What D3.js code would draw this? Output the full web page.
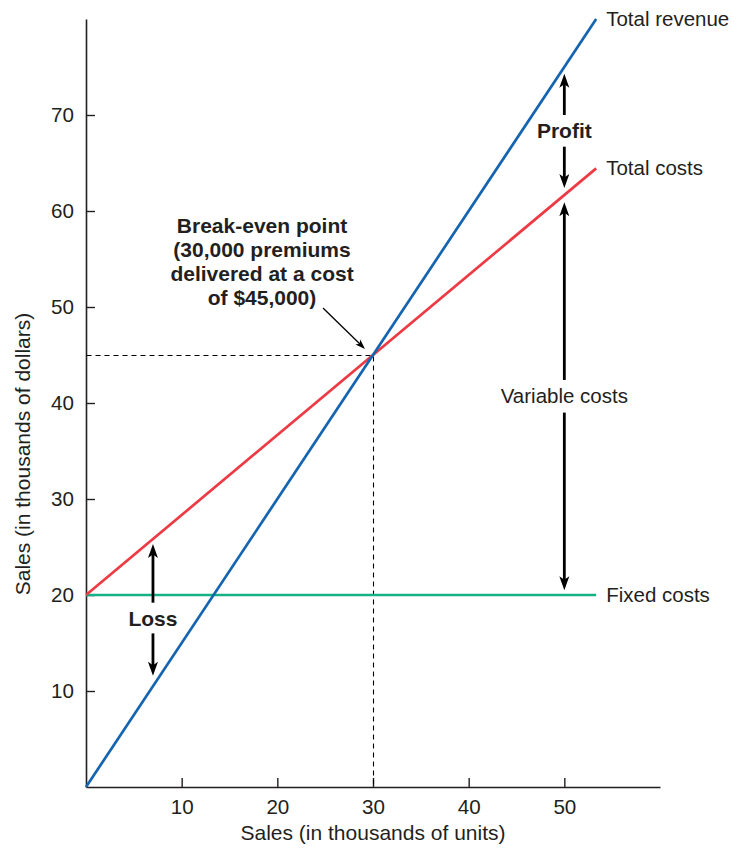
<!DOCTYPE html>
<html>
<head>
<meta charset="utf-8">
<script src="https://cdn.jsdelivr.net/npm/d3@7"></script>
<style>
  html, body { margin: 0; padding: 0; background: #fff; }
  svg { display: block; }
  text { font-family: "Liberation Sans", Arial, Helvetica, sans-serif; fill: #231f20; }
</style>
</head>
<body>
<svg id="chart" width="744" height="850"></svg>
<script>
// ---- Data (thousands of units -> thousands of dollars) ----
const xTicks = [10, 20, 30, 40, 50];
const yTicks = [10, 20, 30, 40, 50, 60, 70];
const seriesNames = ["Total revenue", "Total costs", "Fixed costs"];
const seriesColors = ["#1464b0", "#ec3b44", "#14b284"];
const revenuePoints = [[0, 0], [53.33, 80]];
const totalCostPoints = [[0, 20], [53.33, 64.44]];
const fixedCostPoints = [[0, 20], [53.33, 20]];
const breakEven = [30, 45];
const breakEvenText = ["Break-even point", "(30,000 premiums", "delivered at a cost", "of $45,000)"];
// arrows: [x, yFrom, yTo]
const lossArrows = [[7, 19.2, 25.3], [7, 16.0, 11.6]];
const profitArrows = [[50, 70.0, 74.3], [50, 66.7, 62.4]];
const variableArrows = [[50, 42.4, 60.9], [50, 39.0, 20.5]];
const arrowLabels = [["Loss", 7, 16.8, true], ["Profit", 50, 67.6, true], ["Variable costs", 50, 40.0, false]];

const svg = d3.select("#chart");
const x = d3.scaleLinear().domain([0, 60]).range([86, 660]);
const y = d3.scaleLinear().domain([0, 80]).range([787, 19]);
const ink = "#231f20";

// axes
const gx = svg.append("g").attr("transform", `translate(0,${y(0)})`)
  .call(d3.axisBottom(x).tickValues(xTicks).tickSizeInner(-9).tickSizeOuter(0).tickPadding(12));
const gy = svg.append("g").attr("transform", `translate(${x(0)},0)`)
  .call(d3.axisLeft(y).tickValues(yTicks).tickSizeInner(-9).tickSizeOuter(0).tickPadding(12));
[gx, gy].forEach(g => {
  g.select(".domain").attr("stroke", ink).attr("stroke-width", 1.6);
  g.selectAll(".tick line").attr("stroke", ink).attr("stroke-width", 1.4);
  g.selectAll(".tick text").attr("font-size", 20.6).attr("fill", ink)
    .attr("font-family", '"Liberation Sans", Arial, sans-serif');
});

// axis titles
svg.append("text").attr("x", x(30)).attr("y", 840).attr("text-anchor", "middle")
  .attr("font-size", 21).text("Sales (in thousands of units)");
svg.append("text").attr("transform", `translate(30,454) rotate(-90)`).attr("text-anchor", "middle")
  .attr("font-size", 21).text("Sales (in thousands of dollars)");

// dashed guide lines to break-even
svg.append("path")
  .attr("d", d3.line().x(d => Math.round(x(d[0])) + 0.5).y(d => Math.round(y(d[1])) + 0.5)([[0, breakEven[1]], breakEven, [breakEven[0], 0]]))
  .attr("fill", "none").attr("stroke", "#000").attr("stroke-width", 1.1).attr("stroke-dasharray", "5,4");

// series lines
const line = d3.line().x(d => x(d[0])).y(d => y(d[1]));
const allSeries = [fixedCostPoints, totalCostPoints, revenuePoints];
const order = [2, 1, 0];
allSeries.forEach((pts, i) => {
  const k = order[i];
  svg.append("path").attr("d", line(pts)).attr("fill", "none")
    .attr("stroke", seriesColors[k]).attr("stroke-width", 2.7);
});
[revenuePoints, totalCostPoints, fixedCostPoints].forEach((pts, k) => {
  const end = pts[pts.length - 1];
  svg.append("text").attr("x", x(end[0]) + 10).attr("y", y(end[1]) + 7)
    .attr("font-size", 20.5).text(seriesNames[k]);
});

// arrow helper
function drawArrow(x1, y1, x2, y2, w, headLen, headW) {
  const dx = x2 - x1, dy = y2 - y1, len = Math.hypot(dx, dy);
  const ux = dx / len, uy = dy / len;
  const bx = x2 - ux * headLen, by = y2 - uy * headLen;
  svg.append("line").attr("x1", x1).attr("y1", y1)
    .attr("x2", x2 - ux * headLen * 0.6).attr("y2", y2 - uy * headLen * 0.6)
    .attr("stroke", "#000").attr("stroke-width", w);
  const nx = -uy, ny = ux;
  const notchX = x2 - ux * headLen * 0.75, notchY = y2 - uy * headLen * 0.75;
  svg.append("path")
    .attr("d", `M${x2},${y2}L${bx + nx * headW / 2},${by + ny * headW / 2}L${notchX},${notchY}L${bx - nx * headW / 2},${by - ny * headW / 2}Z`)
    .attr("fill", "#000");
}
[...lossArrows, ...profitArrows, ...variableArrows].forEach(a => {
  drawArrow(x(a[0]), y(a[1]), x(a[0]), y(a[2]), 2.8, 14, 10);
});

arrowLabels.forEach(l => {
  svg.append("text").attr("x", x(l[1])).attr("y", y(l[2])).attr("text-anchor", "middle")
    .attr("font-size", l[3] ? 21 : 20.5).attr("font-weight", l[3] ? "bold" : "normal").text(l[0]);
});

// break-even annotation
const tx = x(18.4), ty0 = 233;
breakEvenText.forEach((t, i) => {
  svg.append("text").attr("x", tx).attr("y", ty0 + i * 24).attr("text-anchor", "middle")
    .attr("font-size", 21).attr("font-weight", "bold").text(t);
});
drawArrow(323, 308, x(breakEven[0]) - 8, y(breakEven[1]) - 6, 1.3, 10, 7);
</script>
</body>
</html>
